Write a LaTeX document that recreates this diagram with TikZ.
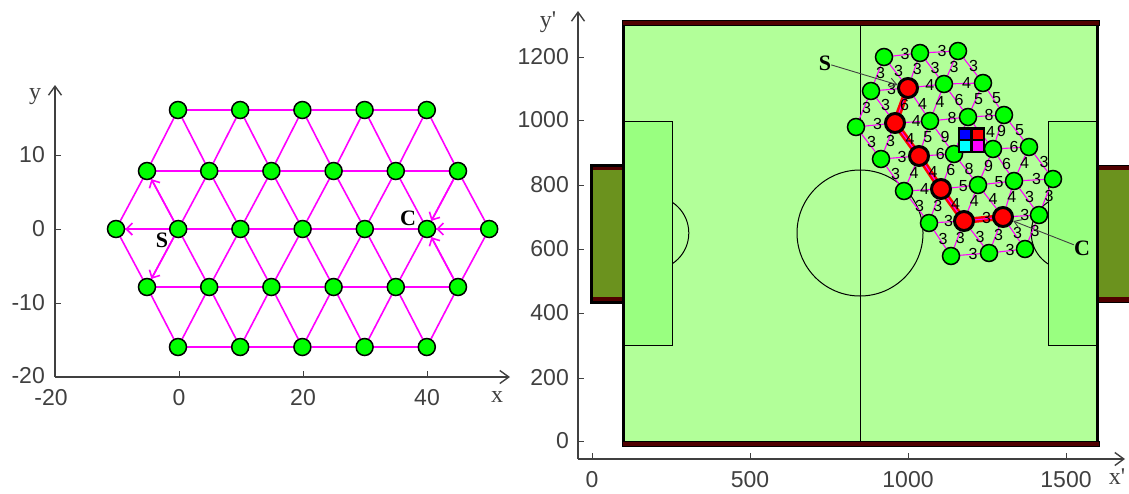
\documentclass[tikz,border=0pt]{standalone}
\usepackage{fontspec}
\setmainfont{Liberation Sans}
\newfontfamily\serifface{Liberation Serif}
\usepackage{xcolor}
\definecolor{fldgreen}{RGB}{178,255,153}
\definecolor{boxgreen}{RGB}{153,255,128}
\definecolor{goalgreen}{RGB}{107,146,30}
\definecolor{fldred}{RGB}{80,0,0}
\definecolor{axisgray}{RGB}{64,64,64}
\definecolor{linkpink}{RGB}{255,0,255}
\definecolor{cellcyan}{RGB}{0,255,255}
\definecolor{vertexgreen}{RGB}{0,255,0}
\usetikzlibrary{arrows.meta}
\pgfdeclarelayer{under}
\pgfdeclarelayer{links}
\pgfsetlayers{under,links,main}
\tikzset{
  axisline/.style={axisgray, line width=1.4pt, -{Straight Barb[length=9pt,width=13pt]}},
  tickline/.style={axisgray, line width=1pt},
  ticktext/.style={inner sep=0pt, text=axisgray, font=\fontsize{23}{23}\selectfont},
  axistext/.style={inner sep=0pt, text=axisgray, font=\serifface\fontsize{24}{24}\selectfont},
  marktext/.style={inner sep=0pt, font=\serifface\bfseries\fontsize{22}{22}\selectfont},
  wlabel/.style={inner sep=0pt, xshift=3pt, yshift=1pt, font=\fontsize{16}{16}\selectfont},
  vertex/.style={circle, draw=black, fill=vertexgreen, line width=1.5pt, minimum size=17pt, inner sep=0pt},
  pathvertex/.style={vertex, fill=red, line width=3pt, minimum size=19pt},
  link/.style={linkpink, line width=1.6pt},
  thinlink/.style={linkpink, line width=1.1pt},
  flow/.style={linkpink, line width=1.6pt, -{Straight Barb[length=6pt,width=12pt]}},
  leader/.style={axisgray, line width=.9pt, -{Straight Barb[length=7pt,width=9pt]}},
}
\begin{document}
\begin{tikzpicture}[x=1pt, y=-1pt]
  \useasboundingbox (0,0) rectangle (1129,493);
  % Left axes
  \coordinate (lo) at (55,377);
  \coordinate (lxe) at (510,377);
  \coordinate (lye) at (55,85);
  \draw[axisline] (lo) -- (lxe);
  \draw[axisline] (lo) -- (lye);
  \foreach \v/\py in {10/155,0/229,-10/303} {
    \draw[tickline] (55,\py) -- (61,\py);
    \node[ticktext, anchor=east] (lyt\v) at (45,\py) {\v};
  }
  \node[ticktext, anchor=east] (lytm) at (45,376) {-20};
  \node[ticktext] (lxtm) at (51,398) {-20};
  \foreach \v/\px in {0/179,20/303,40/427} {
    \draw[tickline] (\px,377) -- (\px,371);
    \node[ticktext] (lxt\v) at (\px,398) {\v};
  }
  \node[axistext] (lyname) at (35,97) {y};
  \node[axistext] (lxname) at (497,397) {x};
  % Left lattice
  \foreach \r/\x/\y/\n in {1/178/110/4, 2/147/171/5, 3/116/229/6, 4/147/287/5, 5/178/347/4} {
    \foreach \j in {0,...,\n} {
      \node[vertex] (l\r-\j) at ({\x+62.2*\j},\y) {};
    }
  }
  \begin{pgfonlayer}{links}
    \foreach \s/\t/\o/\n in {1/1/1/3, 2/2/1/4, 3/3/1/5, 4/4/1/4, 5/5/1/3,
                             1/2/0/4, 1/2/1/4, 2/3/0/5, 2/3/1/5,
                             4/3/0/5, 4/3/1/5, 5/4/0/4, 5/4/1/4} {
      \foreach \j in {0,...,\n} {
        \pgfmathtruncatemacro\k{\j+\o}
        \draw[link] (l\s-\j) -- (l\t-\k);
      }
    }
  \end{pgfonlayer}
  % Flows out of s and into c
  \foreach \e in {l3-0,l2-0,l4-0} \draw[flow] (l3-1) -- (\e);
  \foreach \e in {l3-6,l2-5,l4-5} \draw[flow] (\e) -- (l3-5);
  \node[marktext] (ls) at (162,240) {S};
  \node[marktext] (lc) at (408,218) {C};
  % Pitch
  \begin{pgfonlayer}{under}
    \fill[fldgreen] (622,22) rectangle (1098,444);
    \draw[black, line width=1pt] (652,233) circle (36.8pt);
    \draw[black, line width=1pt] (1068,233) circle (36.8pt);
    \draw[black, line width=.8pt, fill=boxgreen] (623,121) rectangle (672,345);
    \draw[black, line width=.8pt, fill=boxgreen] (1048,121) rectangle (1098,345);
    \draw[black, line width=1pt] (860,22) -- (860,444);
    \draw[black, line width=1pt] (860,233) circle (63pt);
    \draw[black, line width=3.5pt] (623.5,21) -- (623.5,445);
    \draw[black, line width=3.5pt] (1097.5,21) -- (1097.5,445);
    \draw[black, line width=1pt, fill=fldred] (622,20) rectangle (1099,25);
    \draw[black, line width=1pt, fill=fldred] (622,441) rectangle (1099,446);
    % Goals
    \fill[goalgreen] (592,165) rectangle (622,302);
    \fill[goalgreen] (1099,165) rectangle (1129,302);
    \fill[fldred] (591,165) rectangle (622,170);
    \fill[fldred] (591,297) rectangle (622,302);
    \fill[fldred] (1099,165) rectangle (1129,170);
    \fill[fldred] (1099,297) rectangle (1129,302);
    \draw[black, line width=3pt] (622,165) -- (591.5,165) -- (591.5,302) -- (622,302);
    \draw[black, line width=1pt] (1099,165) -- (1129,165);
    \draw[black, line width=1pt] (1099,302) -- (1129,302);
  \end{pgfonlayer}
  % Right axes
  \coordinate (ro) at (578,459);
  \coordinate (rxe) at (1125,459);
  \coordinate (rye) at (578,11);
  \draw[axisline] (ro) -- (rxe);
  \draw[axisline] (ro) -- (rye);
  \foreach \v/\py in {0/441,200/378,400/313,600/249,800/185,1000/120,1200/57} {
    \draw[tickline] (578,\py) -- (584,\py);
    \node[ticktext, anchor=east] (ryt\v) at (569,\py) {\v};
  }
  \foreach \v/\px in {0/592,500/750,1000/908,1500/1066} {
    \draw[tickline] (\px,459) -- (\px,453);
    \node[ticktext] (rxt\v) at (\px,480) {\v};
  }
  \node[axistext] (ryname) at (548,22) {y'};
  \node[axistext] (rxname) at (1117,477) {x'};
  % Right lattice
  \foreach \n/\px/\py in {1-0/958/51, 1-1/983/83, 1-2/1004/115, 1-3/1029/147, 1-4/1053/179,
                          2-0/920/53, 2-1/944/84, 2-2/968/117, 2-3/993/149, 2-4/1014/181, 2-5/1039/215,
                          3-0/884/57, 3-2/930/121, 3-3/954/154, 3-4/978/185, 3-6/1025/249,
                          4-0/871/91, 4-5/989/253,
                          5-0/856/127, 5-1/881/159, 5-2/904/191, 5-3/929/223, 5-4/951/256} {
    \node[vertex] (r\n) at (\px,\py) {};
  }
  \foreach \n/\px/\py in {3-1/908/88, 4-1/895/123, 4-2/919/156, 4-3/941/189, 4-4/964/221, 3-5/1003/217} {
    \node[pathvertex] (r\n) at (\px,\py) {};
  }
  \begin{pgfonlayer}{links}
    % Shortest route
    \draw[red, line width=6pt] (r3-1.center) -- (r4-1.center) -- (r4-2.center) -- (r4-3.center) -- (r4-4.center) -- (r3-5.center);
    \foreach \s/\t/\o/\ws in {1/1/1/{3,5,5,3}, 2/2/1/{3,6,,6,3}, 3/3/1/{3,4,9,8,4,3},
                              4/4/1/{3,4,4,4,3}, 5/5/1/{3,3,3,3},
                              1/2/0/{3,4,8,6,3}, 1/2/1/{3,5,9,4,3},
                              2/3/0/{3,4,8,,5,3}, 2/3/1/{3,4,,9,4,3},
                              4/3/0/{3,6,5,6,4,3}, 4/3/1/{3,4,6,5,3,3},
                              5/4/0/{3,3,4,3,3}, 5/4/1/{3,3,4,3,3}} {
      \foreach \w [count=\j from 0] in \ws {
        \pgfmathtruncatemacro\k{\j+\o}
        \draw[thinlink] (r\s-\j) -- node[wlabel, text=black] (w\s-\t-\o-\j) {\w} (r\t-\k);
      }
    }
    \path (r2-2) -- node[wlabel, xshift=7pt] (wside) {4} (r2-3);
  \end{pgfonlayer}
  % Sensor square
  \fill[black] (958,127) rectangle (985,153);
  \fill[blue] (960,130) rectangle (970,139);
  \fill[red] (973,130) rectangle (983,139);
  \fill[cellcyan] (960,141) rectangle (970,151);
  \fill[linkpink] (973,141) rectangle (983,151);
  % Source and target marks
  \node[marktext] (rs) at (825,63) {S};
  \node[marktext] (rc) at (1082,248) {C};
  \draw[leader] (rs) -- (r3-1);
  \draw[leader] (rc) -- (r3-5);
\end{tikzpicture}
\end{document}
